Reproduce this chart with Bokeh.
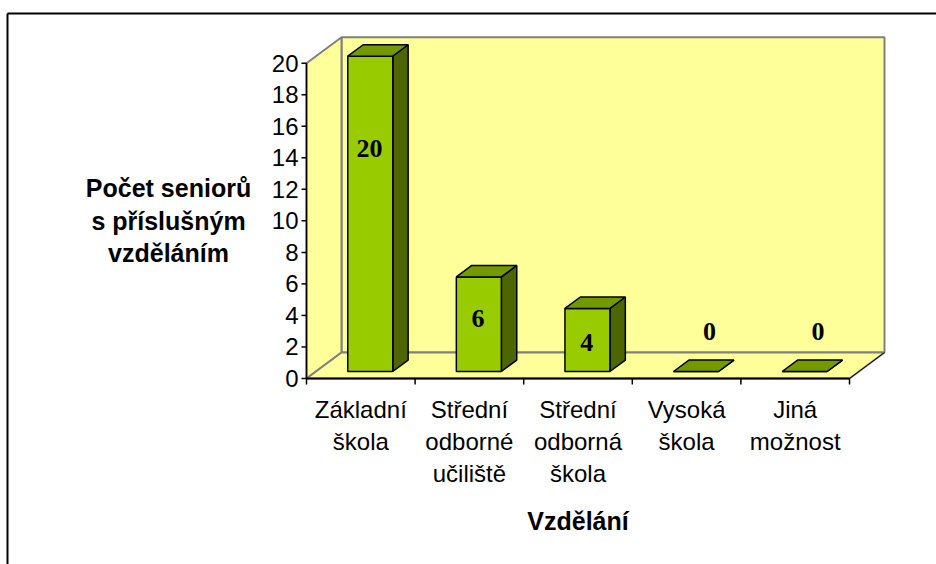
from bokeh.plotting import figure
from bokeh.models import Range1d
from bokeh.core.properties import value
from bokeh.embed import file_html
from bokeh.resources import INLINE

# ---------------- data ----------------
categories = [
    ["Základní", "škola"],
    ["Střední", "odborné", "učiliště"],
    ["Střední", "odborná", "škola"],
    ["Vysoká", "škola"],
    ["Jiná", "možnost"],
]
counts = [20, 6, 4, 0, 0]
y_ticks = [0, 2, 4, 6, 8, 10, 12, 14, 16, 18, 20]
y_title_lines = ["Počet seniorů", "s příslušným", "vzděláním"]
x_title = "Vzdělání"

# ---------------- layout (pixel calibration) ----------------
W, H = 936, 564
X0, Y0 = 306.0, 378.0        # canvas pixel of (category 0, value 0)
SX, SY = 108.6, 15.765       # pixels per category / per unit
YMAX = 20
DX, DY = 35.0 / SX, 26.0 / SY   # depth of the 3D box in data units
F0, F1 = 0.27, 0.71             # bar depth fractions
BW = 22.5 / SX                  # bar half-width

p = figure(width=W, height=H, output_backend="svg", toolbar_location=None,
           x_range=Range1d(-X0 / SX, (W - X0) / SX),
           y_range=Range1d(-(H - Y0) / SY, Y0 / SY),
           min_border=0, x_axis_type=None, y_axis_type=None)
p.grid.visible = False
p.outline_line_color = None
p.background_fill_color = "white"
p.border_fill_color = "white"

n = len(categories)
WALL = "#FFFF99"
GRAY = "#808080"
SANS = value("Liberation Sans")

# walls and floor
p.patch([DX, n + DX, n + DX, DX], [DY, DY, YMAX + DY, YMAX + DY],
        fill_color=WALL, line_color=GRAY, line_width=2)
p.patch([0, DX, DX, 0], [0, DY, YMAX + DY, YMAX],
        fill_color=WALL, line_color=GRAY, line_width=2)
p.patch([0, n, n + DX, DX], [0, 0, DY, DY],
        fill_color=WALL, line_color=GRAY, line_width=2)
p.line([n, n + DX], [0, DY], line_color="black", line_width=1)

# bars
fx, fy, tx, ty, sx, sy = [], [], [], [], [], []
for i, v in enumerate(counts):
    c = i + 0.5
    xl0, xr0 = c - BW + F0 * DX, c + BW + F0 * DX
    xl1, xr1 = c - BW + F1 * DX, c + BW + F1 * DX
    y0, y1 = F0 * DY, F1 * DY
    fx.append([xl0, xr0, xr0, xl0]); fy.append([y0, y0, v + y0, v + y0])
    tx.append([xl0, xr0, xr1, xl1]); ty.append([v + y0, v + y0, v + y1, v + y1])
    sx.append([xr0, xr1, xr1, xr0]); sy.append([y0, y1, v + y1, v + y0])
p.patches(sx, sy, fill_color="#4D6600", line_color="black", line_width=1.5)
p.patches(fx, fy, fill_color="#99CC00", line_color="black", line_width=1.5)
p.patches(tx, ty, fill_color="#729900", line_color="black", line_width=1.5)

# axes lines
p.line([0, 0], [0, YMAX], line_color="black", line_width=1.5)
p.line([0, n], [0, 0], line_color="black", line_width=2)
p.segment(x0=[-5 / SX] * len(y_ticks), y0=y_ticks, x1=[0] * len(y_ticks), y1=y_ticks,
          line_color="black", line_width=1.5)
bx = list(range(n + 1))
p.segment(x0=bx, y0=[0] * len(bx), x1=bx, y1=[-6 / SY] * len(bx),
          line_color="black", line_width=1.5)

# y tick labels
p.text(x=[-8 / SX] * len(y_ticks), y=y_ticks, text=[str(t) for t in y_ticks],
       text_font=SANS, text_font_size="24px",
       text_align="right", text_baseline="middle", text_color="black")

# category labels
LINE = 32.0 / SY
lx, ly, lt = [], [], []
for i, lines in enumerate(categories):
    for j, s in enumerate(lines):
        lx.append(i + 0.5); ly.append(-31.0 / SY - j * LINE); lt.append(s)
p.text(x=lx, y=ly, text=lt, text_font=SANS, text_font_size="24px",
       text_align="center", text_baseline="middle", text_color="black")

# data labels
dlx, dly, dlt = [], [], []
for i, v in enumerate(counts):
    if v > 0:
        dlx.append(i + 0.5 + 0.08); dly.append(0.77 * v - 0.8)
    else:
        dlx.append(i + 0.5 + 0.21); dly.append(3.0)
    dlt.append(str(v))
p.text(x=dlx, y=dly, text=dlt, text_font=value("Liberation Serif"), text_font_style="bold",
       text_font_size="26px", text_align="center", text_baseline="middle", text_color="black")

# axis titles
p.text(x=[n / 2], y=[-142.0 / SY], text=[x_title], text_font=SANS,
       text_font_style="bold", text_font_size="25px", text_align="center",
       text_baseline="middle", text_color="black")
ty_ = [YMAX / 2 + (1 - k) * 32.5 / SY for k in range(len(y_title_lines))]
p.text(x=[-138.0 / SX] * len(y_title_lines), y=ty_, text=y_title_lines,
       text_font=SANS, text_font_style="bold", text_font_size="25px",
       text_align="center", text_baseline="middle", text_color="black")

# chart border (top and left visible)
BX, BY = (7 - X0) / SX, (Y0 - 13) / SY
p.line([BX, (W - X0) / SX], [BY, BY], line_color="black", line_width=2)
p.line([BX, BX], [BY, -(H - Y0) / SY], line_color="black", line_width=2)

open("out.html", "w").write(file_html(p, INLINE))
